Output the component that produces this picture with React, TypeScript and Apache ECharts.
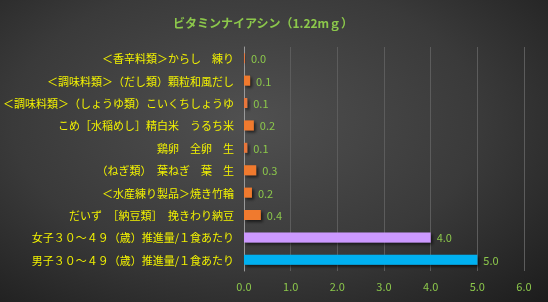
import React, { useEffect, useRef } from "react";
import * as echarts from "echarts";

const categories = [
  "＜香辛料類＞からし　練り",
  "＜調味料類＞（だし類）顆粒和風だし",
  "＜調味料類＞（しょうゆ類）こいくちしょうゆ",
  "こめ［水稲めし］精白米　うるち米",
  "鶏卵　全卵　生",
  "（ねぎ類）　葉ねぎ　葉　生",
  "＜水産練り製品＞焼き竹輪",
  "だいず　［納豆類］　挽きわり納豆",
  "女子３０～４９（歳）推進量/１食あたり",
  "男子３０～４９（歳）推進量/１食あたり",
];
const values = [0.02, 0.13, 0.07, 0.21, 0.07, 0.26, 0.17, 0.36, 4.0, 5.0];
const barColors = [
  "#E8763A", "#F07A2E", "#E8763A", "#F07A2E", "#E8763A",
  "#F07A2E", "#F07A2E", "#F07A2E", "#CC99FF", "#00B0F0",
];
const xTicks = [0, 1, 2, 3, 4, 5, 6];
const title = "ビタミンナイアシン（1.22mｇ）";

export default function App() {
  const ref = useRef<HTMLDivElement>(null);
  useEffect(() => {
    if (!ref.current) return;
    const chart = echarts.init(ref.current, null, { renderer: "svg" });
    const font = "'Noto Sans CJK JP', 'Noto Sans', sans-serif";
    chart.setOption({
      animation: false,
      backgroundColor: "transparent",
      title: {
        text: title,
        left: 258,
        textAlign: "center",
        top: 11,
        textStyle: { color: "#8CC84B", fontSize: 12, fontWeight: "bold", fontFamily: font },
      },
      grid: { left: 242, right: 24, top: 47, bottom: 31, containLabel: false },
      xAxis: {
        type: "value",
        min: xTicks[0],
        max: xTicks[xTicks.length - 1],
        interval: 1,
        axisLine: { show: false },
        axisTick: { show: false },
        splitLine: { show: true, lineStyle: { color: "#5c5c5c", width: 1 } },
        axisLabel: {
          color: "#8CC84B",
          fontSize: 11,
          fontFamily: font,
          margin: 9,
          formatter: (v: number) => v.toFixed(1),
        },
      },
      yAxis: {
        type: "category",
        data: categories,
        inverse: true,
        axisLine: { show: true, lineStyle: { color: "#9a9a9a", width: 1 } },
        axisTick: { show: false },
        axisLabel: { color: "#F2F200", fontSize: 11, fontFamily: font, margin: 10 },
      },
      series: [
        {
          type: "bar",
          barWidth: 10,
          data: values.map((v, i) => ({ value: v, itemStyle: { color: barColors[i] } })),
          itemStyle: {
            shadowBlur: 3,
            shadowOffsetX: 2,
            shadowOffsetY: 2,
            shadowColor: "rgba(0,0,0,0.6)",
          },
          label: {
            show: true,
            position: "right",
            distance: 6,
            color: "#8CC84B",
            fontSize: 11,
            fontFamily: font,
            formatter: (p: any) => Number(p.value).toFixed(1),
          },
        },
      ],
    });
    return () => chart.dispose();
  }, []);
  return (
    <div
      ref={ref}
      style={{
        position: "fixed",
        left: 0,
        top: 0,
        width: 548,
        height: 302,
        background: "radial-gradient(ellipse at 45% 40%, #505050 0%, #3a3a3a 55%, #1c1c1c 100%)",
      }}
    />
  );
}
